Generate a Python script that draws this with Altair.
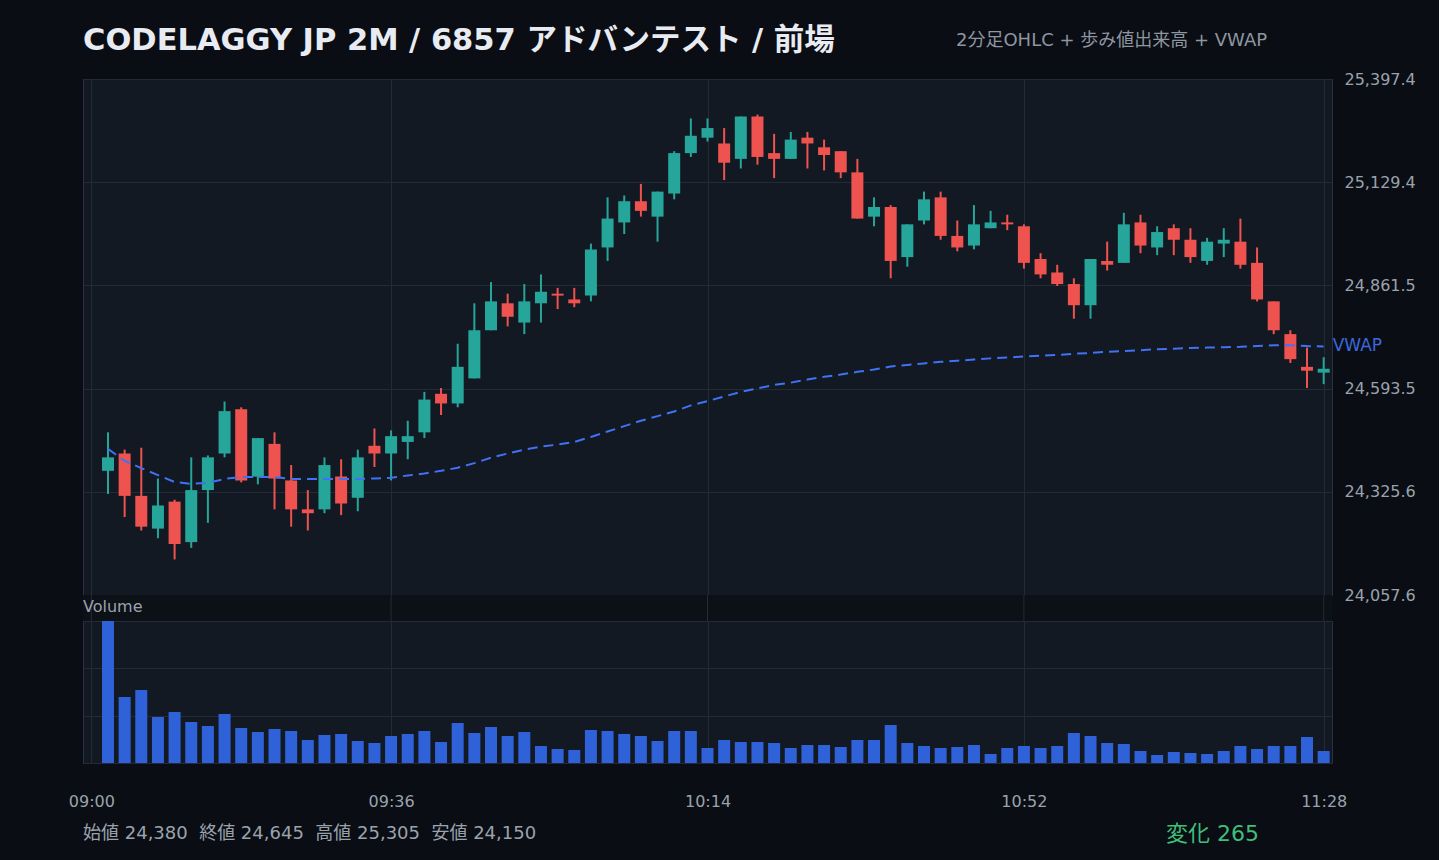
import altair as alt
import pandas as pd

# ---- data ----
minutes = list(range(2, 149, 2))  # 09:02 ... 11:28, 2-minute bars

open_ = [24380, 24425, 24315, 24230, 24300, 24195, 24330, 24425, 24540, 24365,
         24450, 24355, 24280, 24280, 24365, 24310, 24445, 24425, 24455, 24480,
         24580, 24555, 24620, 24745, 24815, 24765, 24815, 24840, 24825, 24835,
         24960, 25025, 25080, 25040, 25100, 25205, 25245, 25230, 25190, 25300,
         25205, 25190, 25245, 25220, 25210, 25155, 25040, 25065, 24935, 25030,
         25090, 24990, 24965, 25010, 25025, 25015, 24930, 24895, 24865, 24810,
         24925, 24920, 25025, 24960, 25010, 24980, 24925, 24970, 24975, 24920,
         24820, 24735, 24650, 24635]
high_ = [24480, 24435, 24440, 24360, 24305, 24415, 24420, 24560, 24545, 24465,
         24480, 24395, 24330, 24415, 24410, 24435, 24490, 24485, 24510, 24585,
         24595, 24710, 24815, 24870, 24840, 24865, 24890, 24855, 24855, 24970,
         25090, 25095, 25125, 25105, 25210, 25295, 25295, 25270, 25300, 25305,
         25255, 25260, 25260, 25240, 25210, 25190, 25090, 25070, 25020, 25105,
         25105, 25030, 25070, 25055, 25045, 25020, 24945, 24915, 24880, 24930,
         24975, 25050, 25045, 25015, 25020, 25010, 24985, 25010, 25035, 24960,
         24820, 24745, 24700, 24675]
low_ = [24320, 24260, 24225, 24205, 24150, 24180, 24245, 24415, 24350, 24345,
        24280, 24235, 24225, 24270, 24265, 24275, 24390, 24355, 24410, 24465,
        24525, 24545, 24620, 24745, 24755, 24735, 24765, 24800, 24805, 24820,
        24925, 24995, 25040, 24975, 25085, 25195, 25235, 25135, 25165, 25175,
        25140, 25190, 25165, 25160, 25140, 25035, 25015, 24880, 24910, 25020,
        24980, 24950, 24955, 25010, 25005, 24905, 24880, 24860, 24775, 24775,
        24900, 24920, 24945, 24940, 24940, 24920, 24915, 24935, 24905, 24820,
        24735, 24660, 24595, 24605]
close_ = [24415, 24315, 24235, 24290, 24190, 24330, 24415, 24535, 24355, 24465,
          24360, 24280, 24270, 24395, 24295, 24415, 24425, 24470, 24470, 24565,
          24555, 24650, 24745, 24820, 24780, 24820, 24845, 24835, 24815, 24955,
          25035, 25080, 25055, 25105, 25205, 25250, 25270, 25180, 25300, 25195,
          25190, 25240, 25230, 25200, 25155, 25035, 25065, 24925, 25020, 25085,
          24990, 24960, 25020, 25025, 25020, 24920, 24890, 24865, 24810, 24930,
          24915, 25020, 24965, 25000, 24980, 24935, 24975, 24980, 24915, 24825,
          24745, 24670, 24640, 24645]
volume = [30000, 13940, 15420, 9720, 10780, 8660, 7820, 10350, 7390, 6550,
          7180, 6760, 4860, 5920, 6130, 4650, 4230, 5700, 6130, 6760,
          4440, 8450, 6340, 7610, 5700, 6550, 3590, 2960, 2750, 6970,
          6760, 6130, 5700, 4650, 6760, 6760, 3170, 4860, 4440, 4440,
          4230, 3170, 3800, 3800, 3380, 4860, 4860, 8030, 4230, 3590,
          3170, 3380, 3800, 1900, 3170, 3590, 3170, 3590, 6340, 5700,
          4230, 4010, 2540, 1690, 2320, 2110, 1900, 2540, 3590, 2960,
          3590, 3590, 5490, 2540]
vwap = [24437, 24406, 24387, 24369, 24351, 24346, 24349, 24359, 24364, 24364,
        24364, 24359, 24359, 24359, 24359, 24359, 24360, 24362, 24368, 24373,
        24380, 24388, 24400, 24414, 24425, 24435, 24443, 24448, 24455, 24468,
        24482, 24496, 24510, 24522, 24534, 24550, 24561, 24573, 24585, 24594,
        24603, 24609, 24617, 24624, 24630, 24637, 24643, 24651, 24655, 24659,
        24663, 24666, 24669, 24672, 24674, 24677, 24679, 24681, 24684, 24686,
        24689, 24691, 24693, 24696, 24697, 24699, 24700, 24701, 24702, 24704,
        24706, 24706, 24704, 24703]

time_ticks = [0, 36, 74, 112, 148]  # 09:00, 09:36, 10:14, 10:52, 11:28
price_ticks = [24057.6, 24325.6, 24593.5, 24861.5, 25129.4, 25397.4]
vol_ticks = [0, 10000, 20000, 30000]

title_text = "CODELAGGY JP 2M / 6857 アドバンテスト / 前場"
subtitle_text = "2分足OHLC + 歩み値出来高 + VWAP"
SEP = " \u00a0"
footer_text = SEP.join(["始値 24,380", "終値 24,645", "高値 25,305", "安値 24,150"])
change_text = "変化 265"

df = pd.DataFrame({"t": minutes, "open": open_, "high": high_, "low": low_,
                   "close": close_, "volume": volume, "vwap": vwap})
df["dir"] = ["up" if c >= o else "down" for o, c in zip(open_, close_)]

# ---- style ----
W, H1, H2, GAP = 1249, 516, 142, 26
FONT = "DejaVu Sans, Noto Sans CJK JP, sans-serif"
BG = "#0a0d13"
PLOT = "#121922"
GRID = "#232b35"
BORDER = "#2a323d"
LABEL = "#9aa3ad"
UP, DOWN = "#26a69a", "#ef5350"
VOLC = "#2f62d8"
VWC = "#3f72f5"

xscale = alt.Scale(domain=[-1, 149], nice=False, zero=False, padding=0)
top_xaxis = alt.Axis(values=time_ticks, labels=False, ticks=False, domain=False,
                     grid=True, gridColor=GRID, title=None)
bot_xaxis = alt.Axis(values=time_ticks, labelExpr="timeFormat(datetime(2024, 0, 1, 9, datum.value), '%H:%M')",
                     ticks=False, tickSize=0, domain=False, grid=True, gridColor=GRID,
                     labelColor=LABEL, labelFontSize=16, labelPadding=30, labelFlush=False,
                     labelFont=FONT, title=None)
pscale = alt.Scale(domain=[price_ticks[0], price_ticks[-1]], nice=False, zero=False, padding=0)
paxis = alt.Axis(orient="right", values=price_ticks, format=",.1f", ticks=False, domain=False,
                 grid=True, gridColor=GRID, labelColor=LABEL, labelFontSize=16, labelPadding=12,
                 labelFont=FONT, title=None)


def xt(field="t"):
    return alt.X(f"{field}:Q", scale=xscale, axis=top_xaxis)


def xb(field="t"):
    return alt.X(f"{field}:Q", scale=xscale, axis=bot_xaxis)


def yp(field):
    return alt.Y(f"{field}:Q", scale=pscale, axis=paxis)


color = alt.Color("dir:N", scale=alt.Scale(domain=["up", "down"], range=[UP, DOWN]), legend=None)

base = alt.Chart(df)
wick = base.mark_rule(strokeWidth=2).encode(x=xt(), y=yp("low"), y2="high:Q", color=color)
body = base.mark_bar(size=12).encode(x=xt(), y=yp("open"), y2="close:Q", color=color)
vwline = base.mark_line(color=VWC, strokeWidth=2, strokeDash=[10, 6]).encode(x=xt(), y=yp("vwap"))
vwlabel = alt.Chart(df.tail(1)).mark_text(text="VWAP", align="left", baseline="middle", dx=9,
                                          fontSize=17, color="#3b68de", font=FONT).encode(x=xt(), y=yp("vwap"))

one = pd.DataFrame({"k": [0]})
# invisible anchor fixing the chart's top-left extent
anchor = alt.Chart(one).mark_rule(color=BG, strokeWidth=1).encode(
    x=alt.value(-30), y=alt.value(-60), y2=alt.value(-59))
gap_band = alt.Chart(one).mark_rect(color="#0c1017").encode(
    x=alt.value(0), x2=alt.value(W), y=alt.value(H1), y2=alt.value(H1 + GAP))
gap_rules = alt.Chart(pd.DataFrame({"t": time_ticks})).mark_rule(color=GRID, strokeWidth=1).encode(
    x=xt(), y=alt.value(H1), y2=alt.value(H1 + GAP))
title = alt.Chart(one).mark_text(text=title_text, align="left", baseline="middle", fontSize=30.5,
                                 fontWeight="bold", color="#e8ecf2", font=FONT).encode(
    x=alt.value(0), y=alt.value(-38))
subtitle = alt.Chart(one).mark_text(text=subtitle_text, align="left", baseline="middle", fontSize=18,
                                    color="#8d96a1", font=FONT).encode(x=alt.value(873), y=alt.value(-38))

top = alt.layer(anchor, gap_band, gap_rules, wick, body, vwline, vwlabel, title, subtitle).properties(
    width=W, height=H1)

vaxis = alt.Axis(values=vol_ticks, labels=False, ticks=False, domain=False, grid=True,
                 gridColor=GRID, title=None)
vbars = base.mark_bar(size=12, color=VOLC).encode(
    x=xb(), y=alt.Y("volume:Q", scale=alt.Scale(domain=[0, 30000], nice=False, padding=0), axis=vaxis))
vlabel = alt.Chart(one).mark_text(text="Volume", align="left", baseline="middle", fontSize=16,
                                  color=LABEL, font=FONT).encode(x=alt.value(0), y=alt.value(-14))
footer = alt.Chart(one).mark_text(text=footer_text, align="left", baseline="middle", fontSize=18,
                                  color=LABEL, font=FONT).encode(x=alt.value(0), y=alt.value(213))
change = alt.Chart(one).mark_text(text=change_text, align="left", baseline="middle", fontSize=22,
                                  color="#3fbf7a", font=FONT).encode(x=alt.value(1083), y=alt.value(213))

bottom = alt.layer(vbars, vlabel, footer, change).properties(width=W, height=H2)

chart = alt.vconcat(top, bottom, spacing=GAP, bounds="flush").properties(
    padding={"left": 52, "top": 18, "right": 23, "bottom": 14},
    background=BG,
).configure_view(stroke=BORDER, fill=PLOT).configure_axis(labelFont=FONT)

chart.save("out.html", embed_options={"renderer": "svg", "actions": False})
